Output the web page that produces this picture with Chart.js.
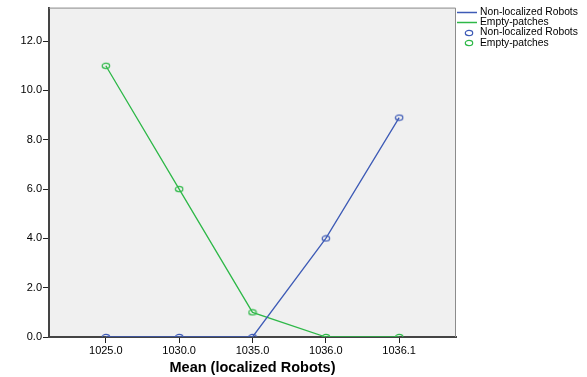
<!DOCTYPE html>
<html>
<head>
<meta charset="utf-8">
<script src="https://cdn.jsdelivr.net/npm/chart.js@4/dist/chart.umd.min.js"></script>
<style>
  html, body { margin: 0; padding: 0; background: #fff; }
</style>
</head>
<body>
<canvas id="lineChart" width="587" height="377"></canvas>
<script>
// values
var categories = ['1025.0', '1030.0', '1035.0', '1036.0', '1036.1'];
var nonLocalized = [0, 0, 0, 4, 8.9];
var emptyPatches = [11, 6, 1, 0, 0];
var yTicks = [0, 2, 4, 6, 8, 10, 12];
var seriesNames = ['Non-localized Robots', 'Empty-patches'];
var xTitle = 'Mean (localized Robots)';

var blue = '#3e5bb6';
var green = '#2eb848';

// hollow oval marker like the original
function ring(color) {
  var c = document.createElement('canvas');
  c.width = 10; c.height = 8;
  var g = c.getContext('2d');
  g.strokeStyle = color;
  g.lineWidth = 1.2;
  g.beginPath();
  g.ellipse(5, 4, 3.7, 2.6, 0, 0, Math.PI * 2);
  g.stroke();
  return c;
}
var blueRing = ring(blue);
var greenRing = ring(green);

function toPoints(arr) {
  var pts = [];
  for (var i = 0; i < arr.length; i++) {
    pts.push({x: i, y: arr[i]});
  }
  return pts;
}

var framePlugin = {
  id: 'frame',
  beforeDraw: function(chart) {
    var a = chart.chartArea, ctx = chart.ctx;
    ctx.save();
    ctx.fillStyle = '#f0f0f0';
    ctx.fillRect(a.left, a.top, a.right - a.left, a.bottom - a.top);
    ctx.restore();
  },
  afterDraw: function(chart) {
    var a = chart.chartArea, ctx = chart.ctx;
    ctx.save();
    ctx.strokeStyle = '#8c8c8c';
    ctx.lineWidth = 1;
    ctx.beginPath();
    ctx.moveTo(a.left, a.top + 0.5);
    ctx.lineTo(a.right - 0.5, a.top + 0.5);
    ctx.lineTo(a.right - 0.5, a.bottom);
    ctx.stroke();

    // legend
    var rows = [
      {text: seriesNames[0], color: blue, kind: 'line', y: 12.5},
      {text: seriesNames[1], color: green, kind: 'line', y: 22.5},
      {text: seriesNames[0], img: blueRing, kind: 'ring', y: 32.5},
      {text: seriesNames[1], img: greenRing, kind: 'ring', y: 43}
    ];
    ctx.font = '10.3px Arial, "Liberation Sans", sans-serif';
    ctx.textBaseline = 'middle';
    ctx.fillStyle = '#000';
    rows.forEach(function(r) {
      if (r.kind === 'line') {
        ctx.strokeStyle = r.color;
        ctx.lineWidth = 1.5;
        ctx.beginPath();
        ctx.moveTo(457, r.y);
        ctx.lineTo(477, r.y);
        ctx.stroke();
      } else {
        ctx.drawImage(r.img, 464, Math.round(r.y - 4), 10, 8);
      }
      ctx.fillText(r.text, 480, r.y);
    });
    ctx.restore();
  }
};

var ctx = document.getElementById('lineChart').getContext('2d');
var config = {
  type: 'line',
  data: {
    datasets: [{
      label: seriesNames[0],
      data: toPoints(nonLocalized),
      borderColor: blue,
      borderWidth: 1.3,
      pointStyle: blueRing,
      tension: 0
    }, {
      label: seriesNames[1],
      data: toPoints(emptyPatches),
      borderColor: green,
      borderWidth: 1.3,
      pointStyle: greenRing,
      tension: 0
    }]
  },
  options: {
    responsive: false,
    animation: false,
    layout: { padding: { top: 5, right: 131, left: 0, bottom: 0 } },
    plugins: {
      legend: { display: false },
      tooltip: { enabled: false }
    },
    scales: {
      x: {
        type: 'linear',
        min: -0.775,
        max: 4.775,
        afterBuildTicks: function(scale) {
          scale.ticks = categories.map(function(c, i) { return {value: i}; });
        },
        afterFit: function(scale) { scale.height = 40; },
        ticks: {
          autoSkip: false,
          maxRotation: 0,
          padding: 1,
          color: '#000',
          font: { family: 'Arial, "Liberation Sans", sans-serif', size: 11 },
          callback: function(v) { return categories[v]; }
        },
        grid: { drawOnChartArea: false, drawTicks: true, tickLength: 6, color: '#222' },
        border: { display: true, color: '#444', width: 2 },
        title: {
          display: true,
          text: xTitle,
          color: '#000',
          font: { family: 'Arial, "Liberation Sans", sans-serif', size: 14.5, weight: 'bold', lineHeight: 1.2 },
          padding: { top: 0, bottom: 0 }
        }
      },
      y: {
        min: 0,
        max: 13.36,
        afterBuildTicks: function(scale) {
          scale.ticks = yTicks.map(function(v) { return {value: v}; });
        },
        afterFit: function(scale) { scale.width = 49; },
        ticks: {
          padding: 1,
          color: '#000',
          font: { family: 'Arial, "Liberation Sans", sans-serif', size: 11 },
          callback: function(v) { return v.toFixed(1); }
        },
        grid: { drawOnChartArea: false, drawTicks: true, tickLength: 6, color: '#222' },
        border: { display: true, color: '#444', width: 2 }
      }
    }
  },
  plugins: [framePlugin]
};
window.myLine = new Chart(ctx, config);
</script>
</body>
</html>
